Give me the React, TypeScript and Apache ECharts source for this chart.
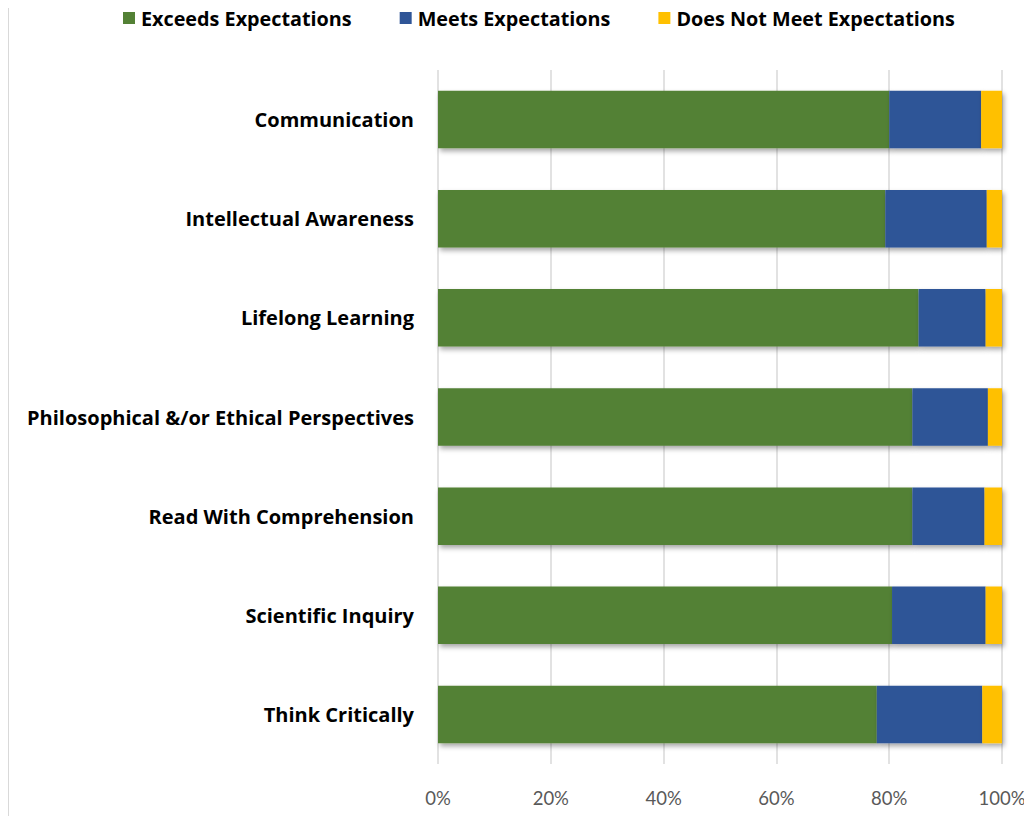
import React, { useEffect, useRef } from "react";
import * as echarts from "echarts";

const categories = [
  "Communication",
  "Intellectual Awareness",
  "Lifelong Learning",
  "Philosophical &/or Ethical Perspectives",
  "Read With Comprehension",
  "Scientific Inquiry",
  "Think Critically",
];
const exceeds = [80.0, 79.3, 85.2, 84.1, 84.1, 80.5, 77.8];
const meets = [16.3, 18.0, 11.9, 13.4, 12.8, 16.6, 18.7];
const doesNotMeet = [3.7, 2.7, 2.9, 2.5, 3.1, 2.9, 3.5];
const seriesNames = ["Exceeds Expectations", "Meets Expectations", "Does Not Meet Expectations"];
const colors = ["#538135", "#2F5597", "#FFC000"];

export default function App() {
  const ref = useRef<HTMLDivElement>(null);
  useEffect(() => {
    if (!ref.current) return;
    const chart = echarts.init(ref.current, null, { renderer: "svg" });
    const values = [exceeds, meets, doesNotMeet];
    chart.setOption({
      animation: false,
      backgroundColor: "#ffffff",
      legend: {
        top: 3,
        left: 118,
        itemWidth: 12,
        itemHeight: 12,
        itemGap: 48,
        icon: "rect",
        textStyle: { fontFamily: "Open Sans", fontWeight: "bold", fontSize: 19.8, color: "#000000", padding: [0, 0, 0, 1] },
        data: seriesNames,
      },
      grid: { left: 438, right: 30, top: 70, bottom: 60 },
      xAxis: {
        type: "value",
        min: 0,
        max: 100,
        interval: 20,
        axisLine: { show: false },
        axisTick: { show: false },
        splitLine: { lineStyle: { color: "#d9d9d9", width: 1.5 } },
        axisLabel: {
          formatter: "{value}%",
          color: "#595959",
          fontFamily: "Lato",
          fontSize: 18.5,
          margin: 24,
        },
      },
      yAxis: {
        type: "category",
        data: categories,
        inverse: true,
        axisLine: { show: false },
        axisTick: { show: false },
        axisLabel: {
          color: "#000000",
          fontFamily: "Open Sans",
          fontWeight: "bold",
          fontSize: 20,
          margin: 24,
        },
      },
      graphic: [
        {
          type: "line",
          shape: { x1: 8, y1: 0, x2: 8, y2: 824 },
          style: { stroke: "#d9d9d9", lineWidth: 2 },
        },
      ],
      series: seriesNames.map((name, i) => ({
        name,
        type: "bar",
        stack: "total",
        barWidth: "58%",
        data: values[i],
        itemStyle: {
          color: colors[i],
          shadowBlur: 5,
          shadowOffsetX: 2,
          shadowOffsetY: 3,
          shadowColor: "rgba(0,0,0,0.35)",
        },
      })),
    });
    return () => chart.dispose();
  }, []);
  return <div ref={ref} style={{ width: 1032, height: 824, margin: -8 }} />;
}
